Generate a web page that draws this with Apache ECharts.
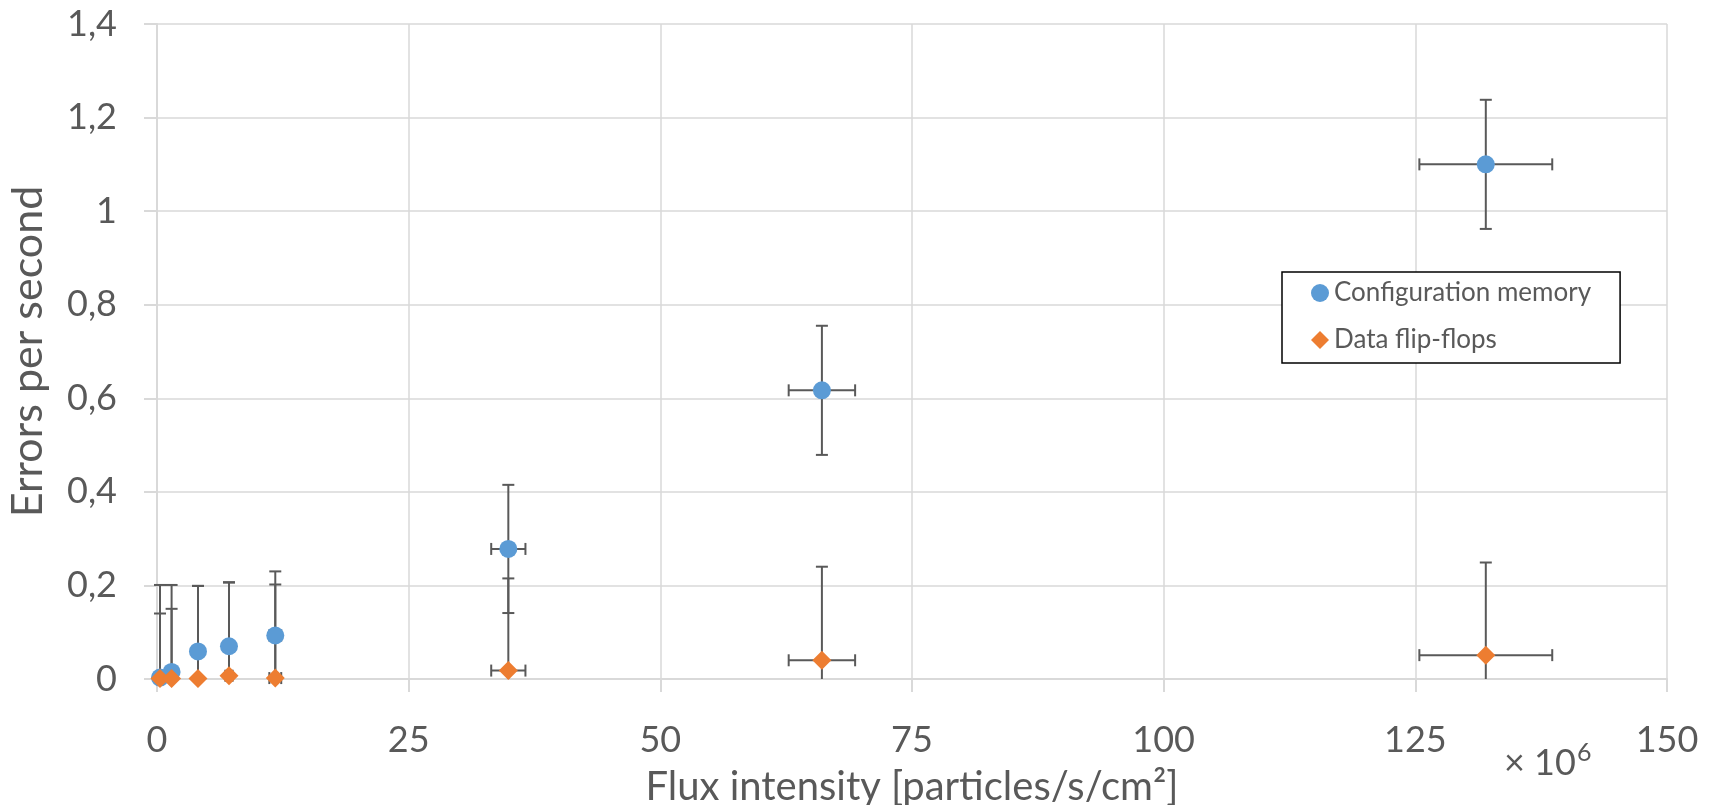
<!DOCTYPE html>
<html>
<head>
<meta charset="utf-8">
<script src="https://cdn.jsdelivr.net/npm/echarts@6/dist/echarts.min.js"></script>
<style>
  html, body { margin: 0; padding: 0; background: #fff; }
  #chart { width: 1714px; height: 805px; }
</style>
</head>
<body>
<div id="chart"></div>
<script>
"use strict";

// flux (x 10^6 particles/s/cm2), same for both series
var flux = [0.3, 1.45, 4.07, 7.15, 11.75, 34.9, 66.05, 132];
var fluxErr = [0.015, 0.07, 0.2, 0.36, 0.59, 1.7, 3.3, 6.6];

var cfgRate = [0.003, 0.015, 0.059, 0.07, 0.093, 0.278, 0.617, 1.1];
var cfgErr = [0.137, 0.135, 0.14, 0.136, 0.137, 0.137, 0.138, 0.138];

var ffRate = [0.001, 0.001, 0.001, 0.007, 0.002, 0.018, 0.04, 0.051];
var ffErr = [0.2, 0.2, 0.198, 0.2, 0.2, 0.197, 0.2, 0.198];

var seriesNames = ["Configuration memory", "Data flip-flops"];
var xTicks = [0, 25, 50, 75, 100, 125, 150];
var yTicks = [0, 0.2, 0.4, 0.6, 0.8, 1, 1.2, 1.4];

var FONT = "Lato";
var TEXT = "#595959";
var GRID = "#d9d9d9";

function points(ys) {
  return flux.map(function (x, i) { return [x, ys[i]]; });
}
function errPoints(ys, errs) {
  return flux.map(function (x, i) { return [x, ys[i], fluxErr[i], errs[i]]; });
}

function renderErr(params, api) {
  var x = api.value(0), y = api.value(1), ex = api.value(2), ey = api.value(3);
  var cap = 6;
  var st = { stroke: "#595959", lineWidth: 2 };
  var low = y - ey;
  var clipped = low < 0;
  var top = api.coord([x, y + ey]);
  var bot = api.coord([x, Math.max(0, low)]);
  var l = api.coord([x - ex, y]);
  var r = api.coord([x + ex, y]);
  var kids = [
    { type: "line", shape: { x1: top[0], y1: top[1], x2: bot[0], y2: bot[1] }, style: st },
    { type: "line", shape: { x1: top[0] - cap, y1: top[1], x2: top[0] + cap, y2: top[1] }, style: st },
    { type: "line", shape: { x1: l[0], y1: l[1], x2: r[0], y2: r[1] }, style: st },
    { type: "line", shape: { x1: l[0], y1: l[1] - cap, x2: l[0], y2: l[1] + cap }, style: st },
    { type: "line", shape: { x1: r[0], y1: r[1] - cap, x2: r[0], y2: r[1] + cap }, style: st }
  ];
  if (!clipped) {
    kids.push({ type: "line", shape: { x1: bot[0] - cap, y1: bot[1], x2: bot[0] + cap, y2: bot[1] }, style: st });
  }
  return { type: "group", children: kids };
}

var chart = echarts.init(document.getElementById("chart"), null, { renderer: "canvas" });

chart.setOption({
  animation: false,
  textStyle: { fontFamily: FONT },
  grid: { left: 157, right: 47, top: 24, bottom: 126, outerBoundsMode: "none" },
  legend: {
    data: [
      { name: seriesNames[0], icon: "circle" },
      { name: seriesNames[1], icon: "diamond" }
    ],
    orient: "vertical",
    left: 1282,
    top: 272,
    itemWidth: 18,
    itemHeight: 18,
    itemGap: 17,
    padding: [6, 29, 8, 29],
    borderColor: "#000",
    borderWidth: 1.5,
    backgroundColor: "#fff",
    textStyle: { fontFamily: FONT, fontSize: 26, color: TEXT, lineHeight: 30 }
  },
  xAxis: {
    type: "value",
    min: xTicks[0],
    max: xTicks[xTicks.length - 1],
    interval: 25,
    name: "Flux intensity [particles/s/cm²]",
    nameLocation: "middle",
    nameGap: 88,
    nameTextStyle: { fontFamily: FONT, fontSize: 40, color: TEXT },
    axisLine: { show: true, lineStyle: { color: GRID, width: 2 } },
    axisTick: { show: true, length: 13, lineStyle: { color: GRID, width: 2 } },
    axisLabel: { margin: 43, fontSize: 36, color: TEXT, fontFamily: FONT },
    splitLine: { show: true, lineStyle: { color: GRID, width: 1.5 } }
  },
  yAxis: {
    type: "value",
    min: yTicks[0],
    max: yTicks[yTicks.length - 1],
    interval: 0.2,
    name: "Errors per second",
    nameLocation: "middle",
    nameGap: 107,
    nameTextStyle: { fontFamily: FONT, fontSize: 43, color: TEXT },
    axisLine: { show: true, lineStyle: { color: GRID, width: 2 } },
    axisTick: { show: true, length: 13, lineStyle: { color: GRID, width: 2 } },
    axisLabel: {
      margin: 40,
      fontSize: 36,
      color: TEXT,
      fontFamily: FONT,
      formatter: function (v) { return String(+v.toFixed(1)).replace(".", ","); }
    },
    splitLine: { show: true, lineStyle: { color: GRID, width: 1.5 } }
  },
  graphic: [
    {
      type: "text",
      left: 1504,
      top: 745,
      style: { text: "× 10", font: "36px " + FONT, fill: TEXT }
    },
    {
      type: "text",
      left: 1577,
      top: 740,
      style: { text: "6", font: "25px " + FONT, fill: TEXT }
    }
  ],
  series: [
    {
      name: "cfgErr",
      type: "custom",
      renderItem: renderErr,
      data: errPoints(cfgRate, cfgErr),
      encode: { x: 0, y: 1 },
      z: 1,
      silent: true
    },
    {
      name: "ffErr",
      type: "custom",
      renderItem: renderErr,
      data: errPoints(ffRate, ffErr),
      encode: { x: 0, y: 1 },
      z: 1,
      silent: true
    },
    {
      name: seriesNames[0],
      type: "scatter",
      symbol: "circle",
      symbolSize: 18,
      itemStyle: { color: "#5b9bd5", opacity: 1 },
      data: points(cfgRate),
      z: 2
    },
    {
      name: seriesNames[1],
      type: "scatter",
      symbol: "diamond",
      symbolSize: 19,
      itemStyle: { color: "#ed7d31", opacity: 1 },
      data: points(ffRate),
      z: 3
    }
  ]
});
</script>
</body>
</html>
